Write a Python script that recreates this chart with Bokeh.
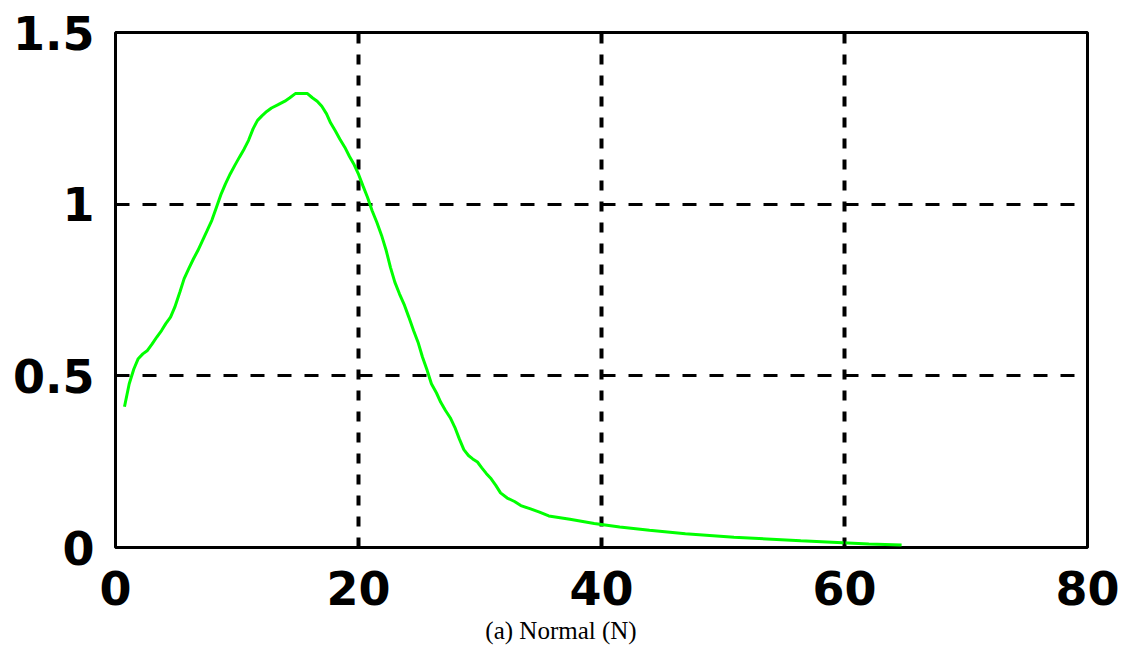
from bokeh.plotting import figure
from bokeh.models import FixedTicker, Range1d, Div
from bokeh.layouts import column
from bokeh.embed import file_html
from bokeh.resources import INLINE

# Normal (N) curve samples
x_vals = [0.74, 1.13, 1.51, 1.87, 2.25, 2.63, 3.02, 3.4, 3.79, 4.14,
          4.53, 4.88, 5.3, 5.65, 6.03, 6.42, 6.78, 7.16, 7.54, 7.93,
          8.31, 8.7, 9.05, 9.44, 9.82, 10.2, 10.59, 10.95, 11.33, 11.69,
          12.07, 12.45, 12.84, 13.39, 13.94, 14.35, 14.8, 15.8, 16.2, 16.6,
          16.98, 17.37, 17.7, 18.1, 18.46, 18.87, 19.26, 19.6, 19.97, 20.36,
          20.74, 21.13, 21.5, 21.9, 22.28, 22.63, 22.99, 23.37, 23.79, 24.14,
          24.53, 24.9, 25.27, 25.65, 26.0, 26.42, 26.77, 27.16, 27.55, 27.93,
          28.29, 28.67, 29.05, 29.4, 29.79, 30.15, 30.53, 30.92, 31.3, 31.69,
          32.24, 32.84, 33.36, 34.1, 34.9, 35.66, 37.4, 39.4, 41.5, 43.95,
          46.9, 50.9, 56.4, 62.0, 64.7]
y_vals = [0.41, 0.477, 0.52, 0.55, 0.564, 0.574, 0.593, 0.613, 0.632, 0.652,
          0.671, 0.70, 0.744, 0.783, 0.812, 0.841, 0.865, 0.894, 0.923, 0.953,
          0.991, 1.03, 1.059, 1.088, 1.113, 1.137, 1.161, 1.186, 1.22, 1.244,
          1.258, 1.27, 1.28, 1.29, 1.30, 1.31, 1.322, 1.322, 1.31, 1.30,
          1.285, 1.263, 1.237, 1.213, 1.19, 1.166, 1.139, 1.118, 1.09, 1.054,
          1.02, 0.98, 0.948, 0.909, 0.865, 0.816, 0.773, 0.739, 0.705, 0.671,
          0.632, 0.598, 0.554, 0.516, 0.477, 0.45, 0.423, 0.399, 0.378, 0.35,
          0.317, 0.285, 0.268, 0.258, 0.249, 0.232, 0.215, 0.20, 0.181, 0.159,
          0.144, 0.134, 0.122, 0.113, 0.103, 0.092, 0.082, 0.07, 0.06, 0.05,
          0.04, 0.03, 0.0195, 0.01, 0.007]

x_ticks = [0, 20, 40, 60, 80]
y_ticks = [0, 0.5, 1, 1.5]
y_tick_labels = {0: "0", 0.5: "0.5", 1: "1", 1.5: "1.5"}
caption = "(a) Normal (N)"

p = figure(width=1122, height=626, output_backend="svg", toolbar_location=None,
           x_range=Range1d(0, 80), y_range=Range1d(0, 1.5),
           min_border_left=115, min_border_right=35,
           min_border_top=32, min_border_bottom=79)
p.background_fill_color = "white"
p.border_fill_color = "white"
p.outline_line_color = "black"
p.outline_line_width = 3

p.line(x_vals, y_vals, line_color="#00ff00", line_width=3)

# axes
for ax in (p.xaxis[0], p.yaxis[0]):
    ax.axis_line_color = None
    ax.major_tick_out = 0
    ax.major_tick_in = 9
    ax.major_tick_line_width = 2
    ax.major_tick_line_color = "black"
    ax.minor_tick_line_color = None
    ax.major_label_text_font = "DejaVu Sans"
    ax.major_label_text_font_style = "bold"
    ax.major_label_text_font_size = "46px"
    ax.major_label_text_color = "black"

p.xaxis[0].ticker = FixedTicker(ticks=x_ticks)
p.xaxis[0].major_label_standoff = 23
p.yaxis[0].ticker = FixedTicker(ticks=y_ticks)
p.yaxis[0].major_label_overrides = y_tick_labels
p.yaxis[0].major_label_standoff = 21

# dashed interior grid
p.xgrid[0].ticker = FixedTicker(ticks=[t for t in x_ticks if 0 < t < 80])
p.xgrid[0].grid_line_color = "black"
p.xgrid[0].grid_line_width = 4
p.xgrid[0].grid_line_dash = "10 11"
p.ygrid[0].ticker = FixedTicker(ticks=[t for t in y_ticks if 0 < t < 1.5])
p.ygrid[0].grid_line_color = "black"
p.ygrid[0].grid_line_width = 3
p.ygrid[0].grid_line_dash = "14 13"

# caption under the chart
cap_html = ('<div style="width:1122px; text-align:center; line-height:19px;">'
            '<span style="font-family:\'Liberation Serif\', serif; font-size:25px; '
            'color:black; position:relative; top:-5px;">' + caption + '</span></div>')
cap = Div(text=cap_html, width=1122, height=19,
          styles={"margin": "0", "padding": "0"})

layout = column(p, cap, spacing=0)
open("out.html", "w").write(file_html(layout, INLINE))
